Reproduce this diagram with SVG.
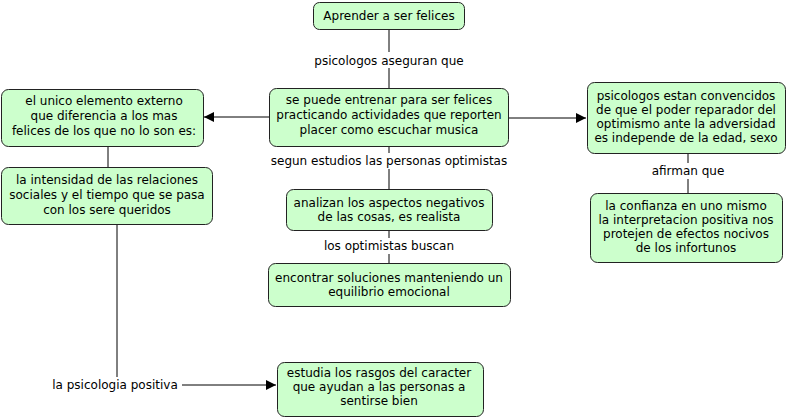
<svg xmlns="http://www.w3.org/2000/svg" width="789" height="418" viewBox="0 0 789 418">
<defs>
<style>
.n rect{fill:#ccffcc;stroke:#222;stroke-width:1}
text{font-family:"DejaVu Sans",Verdana,sans-serif;font-size:12px;fill:#000;text-anchor:middle}
.c line{stroke:#000;stroke-width:1}
.lbl{fill:#fff}
</style>
<marker id="ah" viewBox="0 0 10 10" refX="10" refY="5" markerWidth="10" markerHeight="10" markerUnits="userSpaceOnUse" orient="auto">
<path d="M0,0 L10,5 L0,10 z" fill="#000"/>
</marker>
</defs>
<rect width="789" height="418" fill="#fff"/>
<g id="connectors" class="c">
<line x1="389" y1="29" x2="389" y2="88"/>
<line x1="269" y1="117" x2="204" y2="117" marker-end="url(#ah)"/>
<line x1="508" y1="118" x2="586" y2="118" marker-end="url(#ah)"/>
<line x1="108" y1="146" x2="108" y2="167"/>
<line x1="117" y1="224" x2="117" y2="378"/>
<line x1="182" y1="385" x2="276" y2="385" marker-end="url(#ah)"/>
<line x1="389" y1="146" x2="389" y2="189"/>
<line x1="389" y1="230" x2="389" y2="263"/>
<line x1="688" y1="153" x2="688" y2="193"/>
<rect class="lbl" x="310" y="52" width="158" height="16"/>
<rect class="lbl" x="268" y="153" width="242" height="16"/>
<rect class="lbl" x="320" y="238" width="138" height="16"/>
<rect class="lbl" x="648" y="163" width="80" height="16"/>
<rect class="lbl" x="50" y="377" width="130" height="16"/>
<text x="389" y="65">psicologos aseguran que</text>
<text x="389" y="165">segun estudios las personas optimistas</text>
<text x="389" y="250">los optimistas buscan</text>
<text x="688" y="175">afirman que</text>
<text x="115" y="389">la psicologia positiva</text>
</g>
<g id="n1" class="n"><rect x="313.5" y="2.5" width="151" height="27" rx="6"/><text x="389" y="20">Aprender a ser felices</text></g>
<g id="n2" class="n"><rect x="269.5" y="88.5" width="239" height="58" rx="7"/><text x="389" y="104">se puede entrenar para ser felices</text><text x="389" y="119">practicando actividades que reporten</text><text x="389" y="134">placer como escuchar musica</text></g>
<g id="n3" class="n"><rect x="1.5" y="89.5" width="202" height="57" rx="7"/><text x="104" y="105">el unico elemento externo</text><text x="104" y="120">que diferencia a los mas</text><text x="104" y="135">felices de los que no lo son es:</text></g>
<g id="n4" class="n"><rect x="1.5" y="167.5" width="211" height="57" rx="7"/><text x="107" y="184">la intensidad de las relaciones</text><text x="107" y="199">sociales y el tiempo que se pasa</text><text x="107" y="214">con los sere queridos</text></g>
<g id="n5" class="n"><rect x="587.5" y="82.5" width="198" height="71" rx="7"/><text x="686" y="100">psicologos estan convencidos</text><text x="686" y="114">de que el poder reparador del</text><text x="686" y="128">optimismo ante la adversidad</text><text x="686" y="142">es independe de la edad, sexo</text></g>
<g id="n6" class="n"><rect x="590.5" y="193.5" width="192" height="69" rx="7"/><text x="686" y="210">la confianza en uno mismo</text><text x="686" y="224">la interpretacion positiva nos</text><text x="686" y="238">protejen de efectos nocivos</text><text x="686" y="252">de los infortunos</text></g>
<g id="n7" class="n"><rect x="286.5" y="189.5" width="206" height="41" rx="7"/><text x="389" y="207">analizan los aspectos negativos</text><text x="389" y="221">de las cosas, es realista</text></g>
<g id="n8" class="n"><rect x="268.5" y="263.5" width="242" height="43" rx="7"/><text x="389" y="282">encontrar soluciones manteniendo un</text><text x="389" y="296">equilibrio emocional</text></g>
<g id="n9" class="n"><rect x="277.5" y="362.5" width="206" height="54" rx="7"/><text x="379" y="377">estudia los rasgos del caracter</text><text x="379" y="391">que ayudan a las personas a</text><text x="379" y="405">sentirse bien</text></g>
</svg>
